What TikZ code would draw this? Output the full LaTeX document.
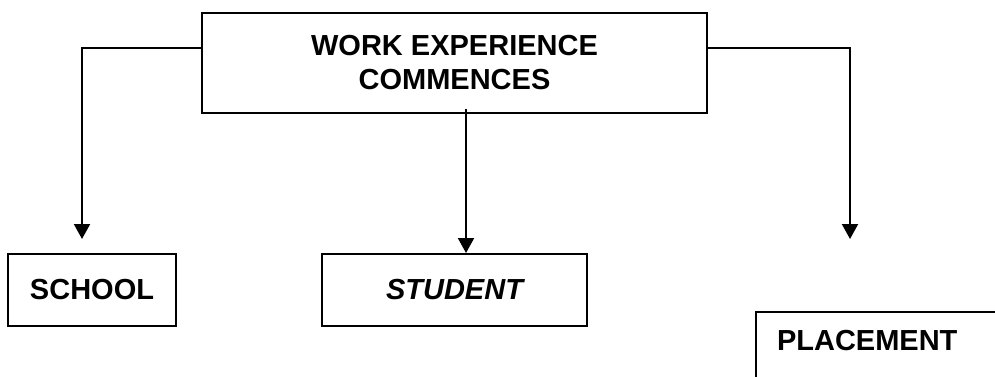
\documentclass[tikz,border=0pt]{standalone}
\usepackage{fontspec}
\setmainfont{Liberation Sans}
\usepackage{tikz}
\usetikzlibrary{positioning,arrows.meta}

\begin{document}
\begin{tikzpicture}[x=0.5pt,y=-0.5pt,
    box/.style={draw,line width=1pt,inner sep=0pt,font=\fontsize{14.5pt}{17pt}\selectfont\bfseries},
    flow/.style={line width=1pt,-{Triangle[width=8pt,length=7.5pt]}}]
            \clip (0,0) rectangle (995,376);

            \node[box,minimum width=252.5pt,minimum height=50pt,align=center] (work) at (454.5,63) {WORK EXPERIENCE\\COMMENCES};
            \node[box,minimum width=132.5pt,minimum height=36pt] (student)[below=69.5pt of work] {\itshape STUDENT};
            \node[box,minimum width=84pt,minimum height=36pt] (school)[left=72pt of student] {SCHOOL};
            \node[box,anchor=north west,inner xsep=10.5pt,text width=125pt,text height=19pt,text depth=17pt] (placement) at (755,311) {PLACEMENT};

            \coordinate (schoolend) at (82,239);
            \coordinate (placementend) at (850,239);

            \draw[flow] ([yshift=7.5pt]work.west) -| (schoolend);
            \draw[flow] ([xshift=5.75pt,yshift=2.5pt]work.south) -- ([xshift=5.75pt]student.north);
            \draw[flow] ([yshift=7.5pt]work.east) -| (placementend);
          \end{tikzpicture}
\end{document}
